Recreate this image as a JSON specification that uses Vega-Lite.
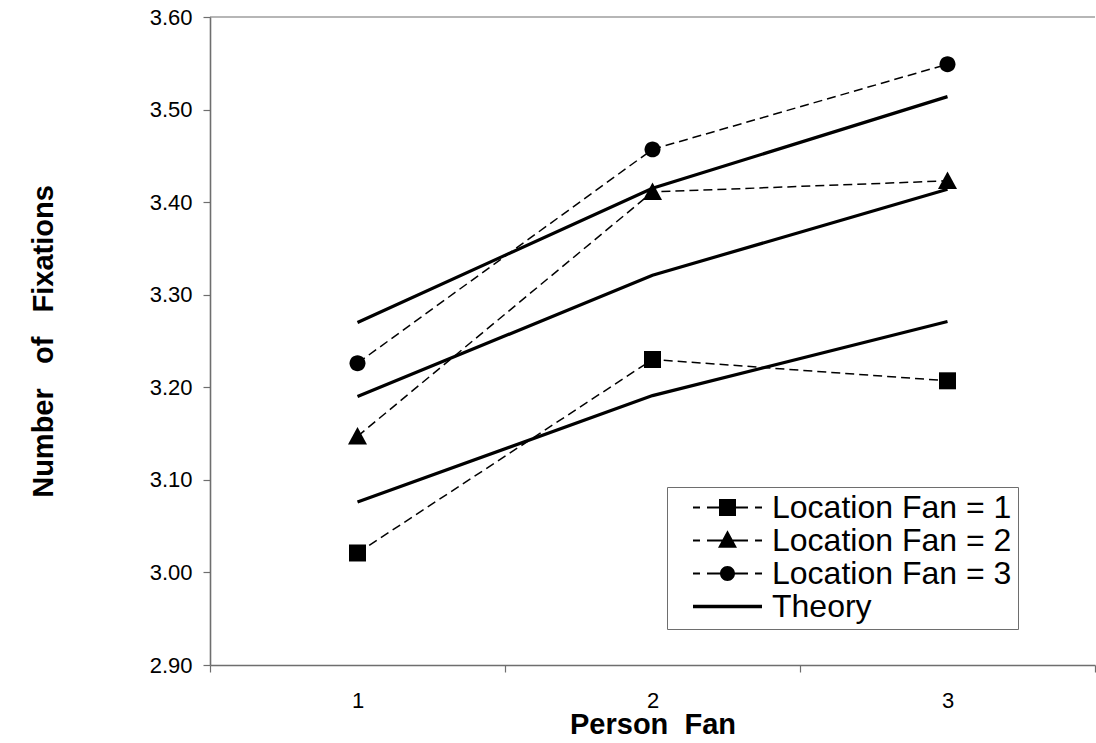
{
  "$schema": "https://vega.github.io/schema/vega-lite/v6.json",
  "width": 885,
  "height": 648,
  "autosize": "none",
  "padding": {"left": 210, "top": 17, "right": 1, "bottom": 78},
  "background": "white",
  "config": {
    "view": {"stroke": null},
    "font": "Liberation Sans",
    "axis": {"labelFont": "Liberation Sans", "titleFont": "Liberation Sans", "labelColor": "black", "titleColor": "black", "grid": false, "domainColor": "#6e6e6e", "tickColor": "#6e6e6e", "domainWidth": 1.6, "tickWidth": 1.2}
  },
  "datasets": {
    "obs": [
      {"person": 1, "series": "Location Fan = 1", "value": 3.021},
      {"person": 2, "series": "Location Fan = 1", "value": 3.23},
      {"person": 3, "series": "Location Fan = 1", "value": 3.207},
      {"person": 1, "series": "Location Fan = 2", "value": 3.147},
      {"person": 2, "series": "Location Fan = 2", "value": 3.411},
      {"person": 3, "series": "Location Fan = 2", "value": 3.423},
      {"person": 1, "series": "Location Fan = 3", "value": 3.226},
      {"person": 2, "series": "Location Fan = 3", "value": 3.457},
      {"person": 3, "series": "Location Fan = 3", "value": 3.549}
    ],
    "theory": [
      {"person": 1, "series": "Theory", "line": "T1", "value": 3.076},
      {"person": 2, "series": "Theory", "line": "T1", "value": 3.191},
      {"person": 3, "series": "Theory", "line": "T1", "value": 3.271},
      {"person": 1, "series": "Theory", "line": "T2", "value": 3.19},
      {"person": 2, "series": "Theory", "line": "T2", "value": 3.321},
      {"person": 3, "series": "Theory", "line": "T2", "value": 3.414},
      {"person": 1, "series": "Theory", "line": "T3", "value": 3.27},
      {"person": 2, "series": "Theory", "line": "T3", "value": 3.415},
      {"person": 3, "series": "Theory", "line": "T3", "value": 3.514}
    ]
  },
  "layer": [
    {
      "data": {"values": [{"edge": "top"}]},
      "mark": {"type": "rule", "color": "#6e6e6e", "strokeWidth": 1.2},
      "encoding": {"y": {"datum": 3.6, "type": "quantitative", "scale": {"domain": [2.9, 3.6], "nice": false, "zero": false}}}
    },
    {
      "data": {"name": "theory"},
      "mark": {"type": "line", "color": "black", "strokeWidth": 3.2, "strokeCap": "butt"},
      "encoding": {
        "x": {
          "field": "person", "type": "ordinal", "bandPosition": 0.5,
          "scale": {"type": "band", "paddingInner": 0, "paddingOuter": 0, "domain": [1, 2, 3]},
          "axis": {
            "title": "Person\u00a0\u00a0Fan", "titleFontSize": 29, "titleFontWeight": "bold",
            "titleY": 68, "titleBaseline": "alphabetic",
            "labelFontSize": 22, "labelBaseline": "alphabetic", "labelPadding": 35, "labelAngle": 0,
            "tickSize": 7, "tickBand": "extent"
          }
        },
        "y": {
          "field": "value", "type": "quantitative",
          "scale": {"domain": [2.9, 3.6], "nice": false, "zero": false},
          "axis": {
            "values": [2.9, 3.0, 3.1, 3.2, 3.3, 3.4, 3.5, 3.6], "format": ".2f",
            "labelFontSize": 22, "labelPadding": 11, "tickSize": 7,
            "title": "Number\u00a0\u00a0\u00a0of\u00a0\u00a0\u00a0Fixations", "titleFontSize": 29, "titleFontWeight": "bold",
            "titleX": -158, "titleBaseline": "alphabetic"
          }
        },
        "detail": {"field": "line"}
      }
    },
    {
      "data": {"name": "obs"},
      "mark": {"type": "line", "color": "black", "strokeWidth": 1.5, "strokeDash": [9, 5]},
      "encoding": {
        "x": {"field": "person", "type": "ordinal", "bandPosition": 0.5},
        "y": {"field": "value", "type": "quantitative"},
        "detail": {"field": "series"}
      }
    },
    {
      "data": {"name": "obs"},
      "mark": {"type": "point", "filled": true, "color": "black", "opacity": 1, "size": 289, "strokeWidth": 0},
      "encoding": {
        "x": {"field": "person", "type": "ordinal", "bandPosition": 0.5},
        "y": {"field": "value", "type": "quantitative"},
        "shape": {
          "field": "series", "type": "nominal", "legend": null,
          "scale": {
            "domain": ["Location Fan = 1", "Location Fan = 2", "Location Fan = 3"],
            "range": ["M-1,-1H1V1H-1Z", "M0,-1.1L1.12,0.96H-1.12Z", "M-0.94,0A0.94,0.94 0 1,1 0.94,0A0.94,0.94 0 1,1 -0.94,0Z"]
          }
        }
      }
    },
    {
      "data": {"name": "obs"},
      "transform": [{"filter": "false"}],
      "mark": {"type": "point", "filled": true, "color": "black", "opacity": 1, "size": 4761, "strokeWidth": 0},
      "encoding": {
        "x": {"field": "person", "type": "ordinal", "bandPosition": 0.5},
        "y": {"field": "value", "type": "quantitative"},
        "shape": {
          "field": "series", "type": "nominal",
          "scale": {
            "domain": ["Location Fan = 1", "Location Fan = 2", "Location Fan = 3", "Theory"],
            "range": [
              "M-1,-0.03H-0.797V0.03H-1Z M-0.594,-0.03H0.594V0.03H-0.594Z M-0.246,-0.246H0.246V0.246H-0.246Z M0.797,-0.03H1V0.03H0.797Z",
              "M-1,-0.03H-0.797V0.03H-1Z M-0.594,-0.03H0.594V0.03H-0.594Z M0,-0.3L0.275,0.21H-0.275Z M0.797,-0.03H1V0.03H0.797Z",
              "M-1,-0.03H-0.797V0.03H-1Z M-0.594,-0.03H0.594V0.03H-0.594Z M-0.217,0A0.217,0.217 0 1,1 0.217,0A0.217,0.217 0 1,1 -0.217,0Z M0.797,-0.03H1V0.03H0.797Z",
              "M-1,-0.05H1V0.05H-1Z"
            ]
          },
          "legend": {
            "title": null,
            "orient": "none",
            "legendX": 457,
            "legendY": 470,
            "strokeColor": "#6e6e6e",
            "fillColor": "white",
            "padding": 6,
            "symbolOffset": 20,
            "symbolSize": 4761,
            "symbolFillColor": "black",
            "symbolStrokeColor": "black",
            "symbolStrokeWidth": 0,
            "symbolOpacity": 1,
            "clipHeight": 29,
            "rowPadding": 0,
            "labelOffset": 10,
            "labelFont": "Liberation Sans",
            "labelFontSize": 32,
            "labelColor": "black",
            "labelLimit": 500
          }
        }
      }
    }
  ],
  "resolve": {"scale": {"shape": "independent"}, "legend": {"shape": "independent"}}
}
